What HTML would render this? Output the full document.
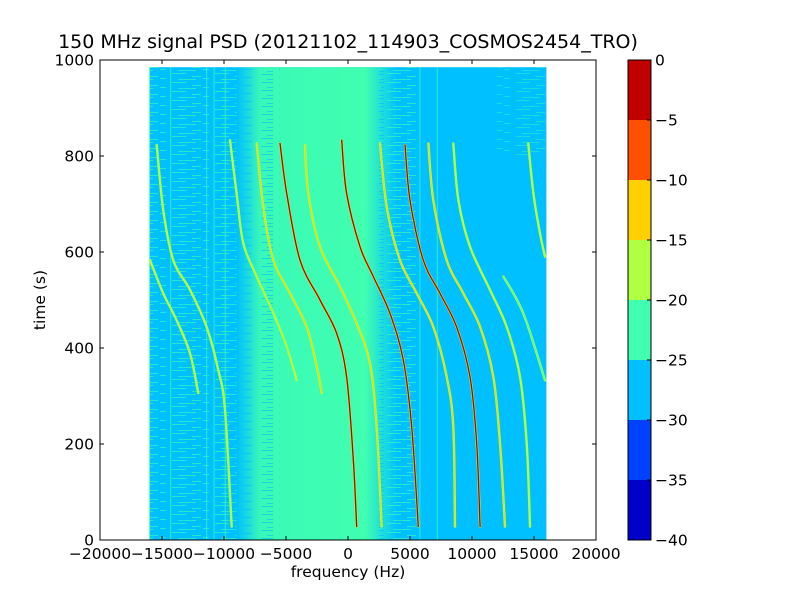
<!DOCTYPE html>
<html><head><meta charset="utf-8"><style>
body{margin:0;background:#fff;font-family:"Liberation Sans","DejaVu Sans",sans-serif}
svg text{font-family:"DejaVu Sans","Liberation Sans",sans-serif}
</style></head><body>
<svg id="c" width="800" height="600" xmlns="http://www.w3.org/2000/svg">
<defs>
<pattern id="streak" width="43" height="9" patternUnits="userSpaceOnUse">
<rect x="0" y="1" width="14" height="1" fill="#40ffb0"/><rect x="20" y="4" width="9" height="1" fill="#40ffb0"/><rect x="6" y="7" width="18" height="1" fill="#40ffb0"/><rect x="31" y="6" width="6" height="1" fill="#40ffb0"/>
</pattern>
<pattern id="streakb" width="37" height="8" patternUnits="userSpaceOnUse">
<rect x="2" y="2" width="12" height="1" fill="#00c0ff"/><rect x="20" y="5" width="10" height="1" fill="#00c0ff"/><rect x="8" y="7" width="6" height="1" fill="#00c0ff"/>
</pattern>
<linearGradient id="gmid" x1="0" x2="1" y1="0" y2="0">
<stop offset="0" stop-color="#40ffb0" stop-opacity="0"/><stop offset="0.15" stop-color="#40ffb0" stop-opacity="0.9"/><stop offset="0.8" stop-color="#40ffb0" stop-opacity="1"/><stop offset="1" stop-color="#40ffb0" stop-opacity="0"/>
</linearGradient>
</defs>
</svg>
<script>
const traceF=[
[-15430,-14900,-14090,-12740,-11400,-10460,-9920,-9380],
[-15970,-14900,-13820,-12740,-12070],
[-9520,-8980,-8440,-7360,-6020,-4940,-4140],
[-7360,-6830,-6020,-4680,-3330,-2520,-2120],
[-5480,-4940,-3870,-2260,-920,-110,430,700],
[-3470,-3200,-2260,-650,700,1770,2310,2710],
[-510,-110,970,2040,3390,4460,5140,5670],
[2580,3120,4190,5540,6880,7960,8490,8630],
[4600,5000,6070,7420,8760,9840,10380,10650],
[6480,6880,7960,9300,10650,11720,12260,12660],
[8490,8900,9840,11450,12800,13870,14410,14680],
[14540,14950,15480,15890],
[12530,14140,15890]
];
const traceT=[
[823,688,583,521,444,354,271,28],
[583,514,458,389,306],
[833,722,618,549,472,403,333],
[826,694,583,514,444,361,306],
[826,722,583,500,431,340,167,28],
[823,722,611,528,451,368,236,28],
[833,722,611,549,472,375,236,28],
[826,694,583,514,444,340,236,28],
[823,708,583,514,444,340,201,28],
[826,708,583,514,444,340,201,28],
[826,708,611,521,444,340,201,28],
[826,722,639,590],
[549,472,333]
];
const tracePeak=[-17,-20,-18,-12,-3,-12,-3,-15,-3,-15,-17,-17,-22];
const vlinesF=[-16000,-14300,-11400,-10800,-9900,5800,7200];
const cbLevels=[-40,-35,-30,-25,-20,-15,-10,-5,0];
const cbColors=["#0000c8","#0040ff","#00c0ff","#40ffb0","#b0ff40","#ffd000","#ff5000","#c00000"];
const xTicks=[-20000,-15000,-10000,-5000,0,5000,10000,15000,20000];
const yTicks=[0,200,400,600,800,1000];

const svg=document.getElementById('c');const NS="http://www.w3.org/2000/svg";
const X0=100,X1=596,Y0=540,Y1=60;
const xs=f=>X0+(f+20000)/40000*(X1-X0);
const ys=t=>Y0-t/1000*(Y0-Y1);
const cs=v=>Y0-(v+40)/40*(Y0-Y1);
function mk(tag,at,parent){const e=document.createElementNS(NS,tag);for(const k in at)e.setAttribute(k,at[k]);(parent||svg).appendChild(e);return e;}
function colorFor(v){for(let i=0;i<8;i++){if(v<cbLevels[i+1])return cbColors[i];}return cbColors[7];}
function smooth(p){let d='M'+p[0][0].toFixed(1)+','+p[0][1].toFixed(1);
 for(let i=0;i<p.length-1;i++){const a=p[Math.max(0,i-1)],b=p[i],c=p[i+1],e=p[Math.min(p.length-1,i+2)];
  const c1=[b[0]+(c[0]-a[0])/6,b[1]+(c[1]-a[1])/6],c2=[c[0]-(e[0]-b[0])/6,c[1]-(e[1]-b[1])/6];
  d+='C'+c1[0].toFixed(1)+','+c1[1].toFixed(1)+' '+c2[0].toFixed(1)+','+c2[1].toFixed(1)+' '+c[0].toFixed(1)+','+c[1].toFixed(1);}
 return d;}

const g=mk('g',{});


const fx0=xs(-16000),fx1=xs(16000),ft=ys(985);
let r=mk('rect',{x:fx0,y:ft,width:fx1-fx0,height:Y0-ft,fill:'#00c0ff'},g);

mk('rect',{x:fx0,y:ft,width:xs(-9000)-fx0,height:Y0-ft,fill:'url(#streak)',opacity:0.6},g);
mk('rect',{x:xs(-9000),y:ft,width:xs(4000)-xs(-9000),height:Y0-ft,fill:'url(#gmid)'},g);
mk('rect',{x:xs(-9000),y:ft,width:xs(-5500)-xs(-9000),height:Y0-ft,fill:'url(#streakb)',opacity:0.6},g);
mk('rect',{x:xs(2500),y:ft,width:xs(5500)-xs(2500),height:Y0-ft,fill:'url(#streakb)',opacity:0.6},g);
mk('rect',{x:xs(2500),y:ft,width:xs(5500)-xs(2500),height:Y0-ft,fill:'url(#streak)',opacity:0.6},g);
mk('rect',{x:xs(12000),y:ft,width:fx1-xs(12000),height:ys(800)-ft,fill:'url(#streak)',opacity:0.4},g);
vlinesF.forEach(f=>{const l=mk('line',{x1:xs(f),x2:xs(f),y1:ft,y2:Y0,stroke:'#40ffb0','stroke-width':1,opacity:0.7},g);

});

traceF.forEach((fa,i)=>{
 const d=smooth(fa.map((f,j)=>[xs(f),ys(traceT[i][j])]));
 const tg=mk('g',{},g);
 
 
 mk('path',{d:d,fill:'none',stroke:'#b0ff40','stroke-width':2.4,'stroke-linecap':'round'},tg);
 mk('path',{d:d,fill:'none',stroke:colorFor(tracePeak[i]),'stroke-width':tracePeak[i]>-10?1.4:1,'stroke-linecap':'round'},tg);
});

const fr=mk('rect',{x:X0,y:Y1,width:X1-X0,height:Y0-Y1,fill:'none',stroke:'#000','stroke-width':1});

xTicks.forEach(v=>{const x=xs(v);
 mk('line',{x1:x,x2:x,y1:Y0,y2:Y0-4,stroke:'#000'});mk('line',{x1:x,x2:x,y1:Y1,y2:Y1+4,stroke:'#000'});
 const t=mk('text',{x:x,y:Y0+19,'text-anchor':'middle','font-size':15.5});t.textContent=(v<0?'\u2212'+(-v):v);
 });
yTicks.forEach(v=>{const y=ys(v);
 mk('line',{x1:X0,x2:X0+4,y1:y,y2:y,stroke:'#000'});mk('line',{x1:X1,x2:X1-4,y1:y,y2:y,stroke:'#000'});
 const t=mk('text',{x:X0-6,y:y+5.5,'text-anchor':'end','font-size':15.5});t.textContent=v;
 });
let t=mk('text',{x:348,y:577,'text-anchor':'middle','font-size':15.5});t.textContent='frequency (Hz)';

t=mk('text',{x:45,y:300,'text-anchor':'middle','font-size':15.5,transform:'rotate(-90 45 300)'});t.textContent='time (s)';

t=mk('text',{x:348,y:48,'text-anchor':'middle','font-size':19});t.textContent='150 MHz signal PSD (20121102_114903_COSMOS2454_TRO)';


const cb=mk('g',{});


const CX=628,CW=23;
cbColors.forEach((c,i)=>{mk('rect',{x:CX,y:cs(cbLevels[i+1]),width:CW,height:cs(cbLevels[i])-cs(cbLevels[i+1]),fill:c},cb);});
mk('rect',{x:CX,y:Y1,width:CW,height:Y0-Y1,fill:'none',stroke:'#000'},cb);
cbLevels.forEach(v=>{const y=cs(v);
 mk('line',{x1:CX+CW,x2:CX+CW-4,y1:y,y2:y,stroke:'#000'},cb);
 const tt=mk('text',{x:CX+CW+4,y:y+5.5,'font-size':15.5},cb);tt.textContent=(v<0?'\u2212'+(-v):v);
 });
</script>
</body></html>
